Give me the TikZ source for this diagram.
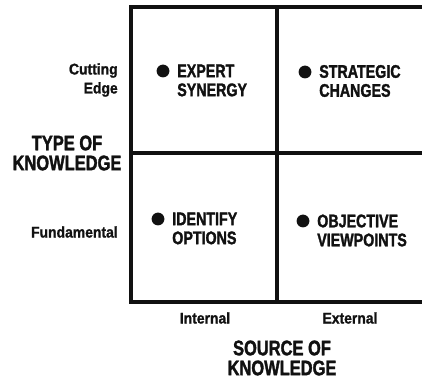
\documentclass[tikz,border=0pt]{standalone}
\usepackage{fontspec}
\setmainfont{Liberation Sans}
\newfontfamily\condfont[FakeStretch=0.78, FakeBold=1.6]{Liberation Sans Bold}
\newfontfamily\narrowfont[FakeStretch=0.9, FakeBold=1.2]{Liberation Sans Bold}
\usetikzlibrary{positioning}
\definecolor{inkblack}{HTML}{111111}

\begin{document}
\begin{tikzpicture}[
    x=0.025cm, y=-0.025cm,
    % ── Grid styles ──────────────────────────────────────────────────────
    frame/.style={draw=inkblack, line width=2.2pt},
    divider/.style={draw=inkblack, line width=2.8pt},
    % ── Text styles ──────────────────────────────────────────────────────
    heading/.style={
        font=\condfont\fontsize{15}{14.2}\selectfont,
        text=inkblack, align=center, inner sep=0pt
    },
    axislabel/.style={
        font=\narrowfont\fontsize{11}{13.5}\selectfont,
        text=inkblack, inner sep=0pt
    },
    item/.style={
        font=\condfont\fontsize{13}{13.5}\selectfont,
        text=inkblack, align=left, anchor=west, inner sep=0pt
    },
    dot/.style={
        circle, fill=inkblack, inner sep=0pt, minimum size=0.32cm
    }
]
\useasboundingbox (0,0) rectangle (422,379);

% ═══════════════════════════════════════════════════════════════════════════
% 2x2 grid (runs off on the right)
% ═══════════════════════════════════════════════════════════════════════════
\coordinate (nw) at (131,7);
\coordinate (se) at (445,302);
\begin{scope}
    \clip (0,0) rectangle (422,379);
    \draw[frame] (nw) rectangle (se);
    \draw[divider] (277,7) -- (277,302);
    \draw[frame] (131,153) -- (445,153);
\end{scope}

% ═══════════════════════════════════════════════════════════════════════════
% Quadrant entries
% ═══════════════════════════════════════════════════════════════════════════
% Top left
\node[dot] (dotES) at (163,71) {};
\node[item] (expert) at (177,80.5) {EXPERT\\SYNERGY};

% Top right
\node[dot] (dotSC) at (305,72) {};
\node[item] (strategic) at (319,81) {STRATEGIC\\CHANGES};

% Bottom left
\node[dot] (dotIO) at (158,219) {};
\node[item] (identify) at (172,228.5) {IDENTIFY\\OPTIONS};

% Bottom right
\node[dot] (dotOV) at (303,221) {};
\node[item] (objective) at (317,230.5) {OBJECTIVE\\VIEWPOINTS};

% ═══════════════════════════════════════════════════════════════════════════
% Axis labels
% ═══════════════════════════════════════════════════════════════════════════
% Vertical axis
\node[axislabel, anchor=east, align=right] (cutting) at (118,80) {Cutting\\Edge};
\node[heading] (typeof) at (67,153) {TYPE OF\\KNOWLEDGE};
\node[axislabel, anchor=east] (fundamental) at (118,232) {Fundamental};

% Horizontal axis
\node[axislabel] (internal) at (205,318) {Internal};
\node[axislabel] (external) at (350,318) {External};
\node[heading] (sourceof) at (282,358) {SOURCE OF\\KNOWLEDGE};

\end{tikzpicture}
\end{document}
